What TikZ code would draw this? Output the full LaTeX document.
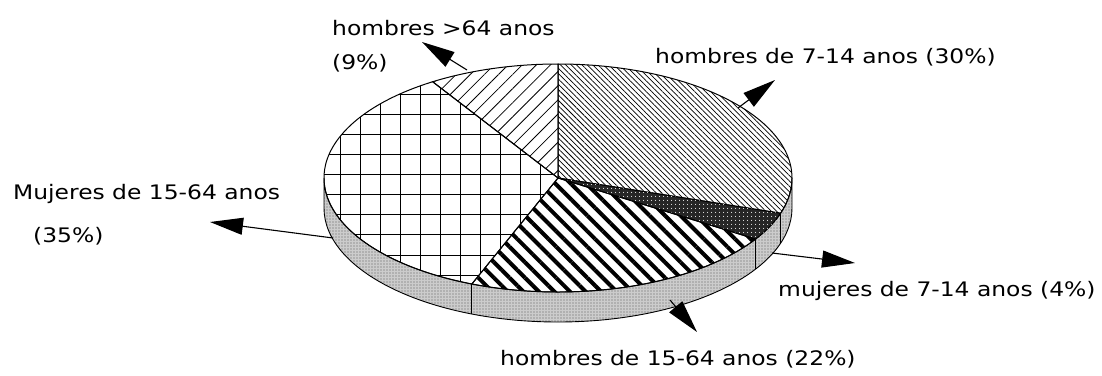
\documentclass[tikz,border=0pt]{standalone}
\usepackage{fontspec}
\setmainfont[FakeStretch=1.17]{DejaVu Sans}
\usetikzlibrary{patterns.meta,arrows.meta}
\begin{document}
\begin{tikzpicture}[x=1pt,y=1pt,
  lbl/.style={font=\fontsize{20}{24}\selectfont, inner sep=0pt, anchor=base west},
  arr/.style={-{Triangle[length=33pt,width=17pt]}, line width=1.1pt},
  slice/.style={draw=black, line width=1pt},
  sideline/.style={draw=black, line width=0.9pt},
]
\useasboundingbox (0,0) rectangle (1102,-375);
\coordinate (C) at (558,-178);

% side of the pie
\path[fill=black!20] (C) ++(180:234pt and 114pt) arc (180:360:234pt and 114pt) -- ++(0,-30) arc (360:180:234pt and 114pt) -- cycle;
\path[pattern={Dots[distance=3pt,radius=0.6pt]}, pattern color=black!65] (C) ++(180:234pt and 114pt) arc (180:360:234pt and 114pt) -- ++(0,-30) arc (360:180:234pt and 114pt) -- cycle;
\draw[sideline] (C) ++(180:234pt and 114pt) arc (180:360:234pt and 114pt) -- ++(0,-30) arc (360:180:234pt and 114pt) -- cycle;
\draw[sideline] (C) ++(-111.6:234pt and 114pt) -- ++(0,-30);
\draw[sideline] (C) ++(-32.4:234pt and 114pt) -- ++(0,-30);
\draw[sideline] (C) ++(-18:234pt and 114pt) -- ++(0,-30);

% slices (top surface)
% hombres de 7-14 anos (30%)
\draw[slice, pattern={Lines[angle=-45,distance=3.8pt,line width=0.75pt]}] (C) -- ++(90:234pt and 114pt) arc (90:-18:234pt and 114pt) -- cycle;
% mujeres de 7-14 anos (4%)
\draw[slice, fill=black!85] (C) -- ++(-18:234pt and 114pt) arc (-18:-32.4:234pt and 114pt) -- cycle;
\path[pattern={Dots[distance=4pt,radius=0.6pt]}, pattern color=white] (C) -- ++(-18:234pt and 114pt) arc (-18:-32.4:234pt and 114pt) -- cycle;
% hombres de 15-64 anos (22%)
\draw[slice, pattern={Lines[angle=-45,distance=11pt,line width=4pt]}] (C) -- ++(-32.4:234pt and 114pt) arc (-32.4:-111.6:234pt and 114pt) -- cycle;
% Mujeres de 15-64 anos (35%)
\draw[slice, pattern={Hatch[angle=0,distance=20pt,line width=1pt]}] (C) -- ++(-111.6:234pt and 114pt) arc (-111.6:-237.6:234pt and 114pt) -- cycle;
% hombres >64 anos (9%)
\draw[slice, pattern={Lines[angle=45,distance=10pt,line width=0.8pt]}] (C) -- ++(122.4:234pt and 114pt) arc (122.4:90:234pt and 114pt) -- cycle;

% labels
\node[lbl] (h64a) at (332,-35) {hombres >64 anos};
\node[lbl] (h64b) at (332,-69) {(9\%)};
\node[lbl] (h714) at (655,-63) {hombres de 7-14 anos (30\%)};
\node[lbl] (m1564a) at (13,-199) {Mujeres de 15-64 anos};
\node[lbl] (m1564b) at (33,-242) {(35\%)};
\node[lbl] (m714) at (778,-296) {mujeres de 7-14 anos (4\%)};
\node[lbl] (h1564) at (500,-365) {hombres de 15-64 anos (22\%)};

% connectors
\coordinate (r1) at (467,-70);  \coordinate (t1) at (422,-42);
\coordinate (r2) at (738,-108); \coordinate (t2) at (775,-80);
\coordinate (r3) at (333,-238); \coordinate (t3) at (210,-222);
\coordinate (r4) at (772,-253); \coordinate (t4) at (855,-263);
\coordinate (r5) at (670,-300); \coordinate (t5) at (697,-332);
\draw[arr] (r1) -- (t1);
\draw[arr] (r2) -- (t2);
\draw[arr] (r3) -- (t3);
\draw[arr] (r4) -- (t4);
\draw[arr] (r5) -- (t5);
\end{tikzpicture}
\end{document}
